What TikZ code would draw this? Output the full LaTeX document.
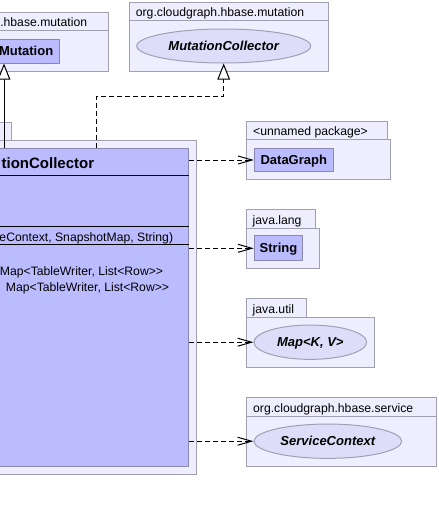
\documentclass[tikz,border=0pt]{standalone}
\usepackage{fontspec}
\setmainfont{Liberation Sans}
\usetikzlibrary{arrows.meta,shapes.geometric}
\definecolor{pkgfill}{RGB}{238,238,255}
\definecolor{pkgborder}{RGB}{160,160,178}
\definecolor{clsfill}{RGB}{187,187,255}
\definecolor{clsborder}{RGB}{136,136,176}
\definecolor{ellfill}{RGB}{221,221,250}
\definecolor{ellborder}{RGB}{160,160,180}
\tikzset{
  pkg/.style={draw=pkgborder, fill=pkgfill, line width=1pt},
  pkglabel/.style={inner sep=0pt, font=\fontsize{12.2}{14}\selectfont},
  clsbox/.style={rectangle, draw=clsborder, fill=clsfill, line width=1pt, inner sep=0pt,
    font=\fontsize{13}{15}\selectfont\bfseries, text height=9.3pt, text depth=0pt},
  ifbox/.style={ellipse, draw=ellborder, fill=ellfill, line width=1pt, inner sep=0pt,
    font=\fontsize{13}{15}\selectfont\bfseries\itshape, text height=9.3pt, text depth=0pt},
  member/.style={inner sep=0pt, font=\fontsize{12.2}{14}\selectfont},
  sepline/.style={black, line width=1pt},
  dep/.style={black, line width=1pt, dash pattern=on 5pt off 3pt,
    -{Straight Barb[length=14pt,width=8pt]}},
  gen/.style={black, line width=1pt, -{Triangle[length=16pt,width=12.6pt,fill=white]}},
  real/.style={black, line width=1pt, dash pattern=on 5pt off 3pt,
    -{Triangle[length=16pt,width=12.6pt,fill=white]}}
}
\begin{document}
\begin{tikzpicture}[x=1pt,y=-1pt]
\useasboundingbox (0,0) rectangle (439,512);
\fill[white] (0,0) rectangle (439,512);
\clip (0,0) rectangle (439,512);

% top-left package
\draw[pkg] (-90,12.7) rectangle (108.7,71);
\draw[pkgborder, line width=1pt] (-90,30.7) -- (108.7,30.7);
\node[pkglabel, anchor=base east] (pl1) at (87.3,26.7) {.hbase.mutation};
\node[clsbox, minimum width=66.3pt, minimum height=24pt] (mut) at (26.15,51) {Mutation};

% interface package
\draw[pkg] (129.3,2.3) rectangle (328.3,71);
\draw[pkgborder, line width=1pt] (129.3,20.3) -- (328.3,20.3);
\node[pkglabel, anchor=base west] (pl2) at (135.7,16.3) {org.cloudgraph.hbase.mutation};
\node[ifbox, minimum width=174pt, minimum height=34pt] (mc) at (223.7,46) {MutationCollector};

% main package
\draw[pkg] (-210,122) rectangle (11,140);
\draw[pkg] (-210,140) rectangle (196.5,474);
\node[clsbox, minimum width=388.5pt, minimum height=317.5pt] (main) at (-5.75,307.25) {};
\draw[sepline] (-200,175.5) -- (188.5,175.5);
\draw[sepline] (-200,226.3) -- (188.5,226.3);
\draw[sepline] (-200,244) -- (188.5,244);
\node[inner sep=0pt, anchor=base east, font=\fontsize{15}{17}\selectfont\bfseries] (title) at (94.3,168.3) {tionCollector};
\node[member, anchor=base east] (m1) at (173.3,241) {ceContext, SnapshotMap, String)};
\node[member, anchor=base east] (m2) at (163.3,275) {Map<TableWriter, List<Row>{}>};
\node[member, anchor=base east] (m3) at (169.3,291.7) {: Map<TableWriter, List<Row>{}>};

% unnamed package
\draw[pkg] (246.7,121.7) rectangle (387.3,139.3);
\draw[pkg] (246.7,139.3) rectangle (390.7,179.3);
\node[pkglabel, anchor=base west] (pl3) at (253,135.3) {<unnamed package>};
\node[clsbox, minimum width=79pt, minimum height=23.4pt] (dg) at (293.8,160) {DataGraph};

% java.lang
\draw[pkg] (246.7,209.3) rectangle (315.7,228.3);
\draw[pkg] (246.7,228.3) rectangle (319.3,268.3);
\node[pkglabel, anchor=base west] (pl4) at (252.5,224.3) {java.lang};
\node[clsbox, minimum width=48.4pt, minimum height=24.7pt] (str) at (278.5,248.3) {String};

% java.util
\draw[pkg] (246.7,298.3) rectangle (306.7,317.3);
\draw[pkg] (246.7,317.3) rectangle (374.3,367.3);
\node[pkglabel, anchor=base west] (pl5) at (252.5,313.3) {java.util};
\node[ifbox, minimum width=112.7pt, minimum height=34.3pt] (map) at (310.3,342.2) {Map<K, V>};

% service package
\draw[pkg] (246.7,397.3) rectangle (436.7,466.7);
\draw[pkgborder, line width=1pt] (246.7,416.7) -- (436.7,416.7);
\node[pkglabel, anchor=base west] (pl6) at (253,412.7) {org.cloudgraph.hbase.service};
\node[ifbox, minimum width=147.7pt, minimum height=34.3pt] (sc) at (327.8,441.2) {ServiceContext};

% connectors
\coordinate (gx) at (4,0);
\coordinate (rx) at (96.3,96.7);
\draw[gen] (main.north -| gx) -- (mut.south -| gx);
\draw[real] (main.north -| rx) -- (rx) -| (mc.south);
\draw[dep] (main.east |- dg.west) -- (dg.west);
\draw[dep] (main.east |- str.west) -- (str.west);
\draw[dep] (main.east |- map.west) -- (map.west);
\draw[dep] (main.east |- sc.west) -- (sc.west);
\end{tikzpicture}
\end{document}
